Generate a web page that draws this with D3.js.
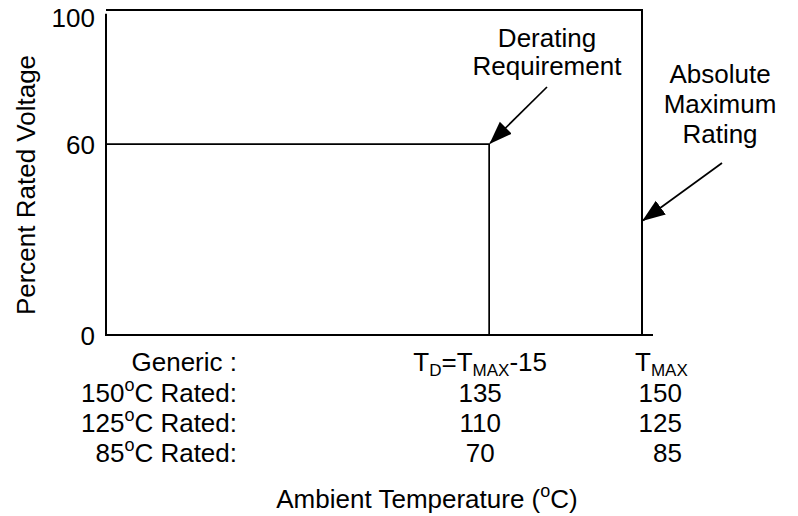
<!DOCTYPE html>
<html>
<head>
<meta charset="utf-8">
<script src="https://d3js.org/d3.v7.min.js"></script>
<style>
  body { margin: 0; background: #fff; }
  text { font-family: "Liberation Sans", Arial, sans-serif; fill: #000; }
</style>
</head>
<body>
<div id="canvas"></div>
<script>
// data
var yTicks = [0, 60, 100];
var deratingPct = 60;          // percent rated voltage below T_D
var tdOffset = -15;            // T_D = T_MAX - 15
var ratedTemps = [150, 125, 85];
var tdValues = [135, 110, 70];
var tmaxValues = [150, 125, 85];
var absMaxArrowPct = 36;       // where the abs. max arrow hits the T_MAX line

var W = 798, H = 516;
var fs = 26;

var svg = d3.select('#canvas').append('svg')
  .attr('width', W).attr('height', H);

// x is temperature relative to T_MAX
var x = d3.scaleLinear().domain([-52.6, 0]).range([106, 642]);
var y = d3.scaleLinear().domain([0, 100]).range([335, 17]);

var defs = svg.append('defs');
defs.append('marker')
  .attr('id', 'arrow')
  .attr('markerUnits', 'userSpaceOnUse')
  .attr('viewBox', '0 -9 23 18')
  .attr('markerWidth', 23).attr('markerHeight', 18)
  .attr('refX', 22).attr('refY', 0)
  .attr('orient', 'auto')
  .append('path').attr('d', 'M0,-8.5L23,0L0,8.5Z').attr('fill', '#000');

//frame
var frameTop = y(102.2);
svg.append('path')
  .attr('d', 'M' + x(-52.6) + ',' + frameTop + 'H' + x(0) + 'V' + y(0))
  .attr('fill', 'none').attr('stroke', '#000').attr('stroke-width', 2);
svg.append('line')
  .attr('x1', x(-52.6)).attr('x2', x(-52.6))
  .attr('y1', y(101)).attr('y2', y(0))
  .attr('stroke', '#000').attr('stroke-width', 2);
svg.append('line')
  .attr('x1', x(-52.6) - 1).attr('x2', x(0) + 11)
  .attr('y1', y(0)).attr('y2', y(0))
  .attr('stroke', '#000').attr('stroke-width', 2);

//derating curve
svg.append('path')
  .attr('d', 'M' + x(-52.6) + ',' + y(deratingPct) + 'H' + x(tdOffset) + 'V' + y(0))
  .attr('fill', 'none').attr('stroke', '#000').attr('stroke-width', 1.7);

//y axis
var axisY = d3.axisLeft(y).tickValues(yTicks).tickSize(0).tickPadding(11);
var gy = svg.append('g').attr('transform', 'translate(' + x(-52.6) + ',0)').call(axisY);
gy.select('.domain').remove();
gy.selectAll('text')
  .attr('dy', '0.36em')
  .style('font-size', fs + 'px')
  .style('font-family', '"Liberation Sans", Arial, sans-serif');

svg.append('text')
  .attr('transform', 'translate(35,185) rotate(-90)')
  .attr('text-anchor', 'middle')
  .style('font-size', fs + 'px')
  .text('Percent Rated Voltage');

//annotations
function multiline(lines, cx, y0, step) {
  var t = svg.append('text').attr('text-anchor', 'middle').style('font-size', fs + 'px');
  lines.forEach(function(s, i) {
    t.append('tspan').attr('x', cx).attr('y', y0 + i * step).text(s);
  });
}
multiline(['Derating', 'Requirement'], 547, 47, 28);
multiline(['Absolute', 'Maximum', 'Rating'], 720, 83, 30);

svg.append('line')
  .attr('x1', 547).attr('y1', 87)
  .attr('x2', x(tdOffset) + 1).attr('y2', y(deratingPct) - 1)
  .attr('stroke', '#000').attr('stroke-width', 1.7)
  .attr('marker-end', 'url(#arrow)');
svg.append('line')
  .attr('x1', 722).attr('y1', 163)
  .attr('x2', x(0) + 1).attr('y2', y(absMaxArrowPct))
  .attr('stroke', '#000').attr('stroke-width', 1.7)
  .attr('marker-end', 'url(#arrow)');

//temperature table under the axis
var rowY = [371, 402, 432, 462];
var labelRight = 237;

svg.append('text').attr('x', labelRight).attr('y', rowY[0])
  .attr('text-anchor', 'end').style('font-size', fs + 'px').text('Generic :');

function degText(t, xx, yy, anchor, before, after) {
  var tx = t.append('text').attr('x', xx).attr('y', yy)
    .attr('text-anchor', anchor).style('font-size', fs + 'px');
  tx.append('tspan').text(before);
  tx.append('tspan').attr('dy', -11).style('font-size', '18px').text('o');
  tx.append('tspan').attr('dy', 11).text(after);
  return tx;
}
ratedTemps.forEach(function(r, i) {
  degText(svg, labelRight, rowY[i + 1], 'end', r, 'C Rated:');
});

var tdX = x(tdOffset) - 9;
var td = svg.append('text').attr('x', tdX).attr('y', rowY[0])
  .attr('text-anchor', 'middle').style('font-size', fs + 'px');
td.append('tspan').text('T');
td.append('tspan').attr('dy', 5).style('font-size', '17px').text('D');
td.append('tspan').attr('dy', -5).text('=T');
td.append('tspan').attr('dy', 5).style('font-size', '17px').text('MAX');
td.append('tspan').attr('dy', -5).text('-15');

var tm = svg.append('text').attr('x', x(0) - 7).attr('y', rowY[0])
  .attr('text-anchor', 'start').style('font-size', fs + 'px');
tm.append('tspan').text('T');
tm.append('tspan').attr('dy', 5).style('font-size', '17px').text('MAX');

svg.selectAll('.tdv').data(tdValues).enter().append('text')
  .attr('class', 'tdv')
  .attr('x', tdX).attr('y', function(d, i) { return rowY[i + 1]; })
  .attr('text-anchor', 'middle').style('font-size', fs + 'px')
  .text(function(d) { return d; });

svg.selectAll('.tmv').data(tmaxValues).enter().append('text')
  .attr('class', 'tmv')
  .attr('x', x(0) + 40).attr('y', function(d, i) { return rowY[i + 1]; })
  .attr('text-anchor', 'end').style('font-size', fs + 'px')
  .text(function(d) { return d; });

//x title
degText(svg, 427, 508, 'middle', 'Ambient Temperature (', 'C)');
</script>
</body>
</html>
